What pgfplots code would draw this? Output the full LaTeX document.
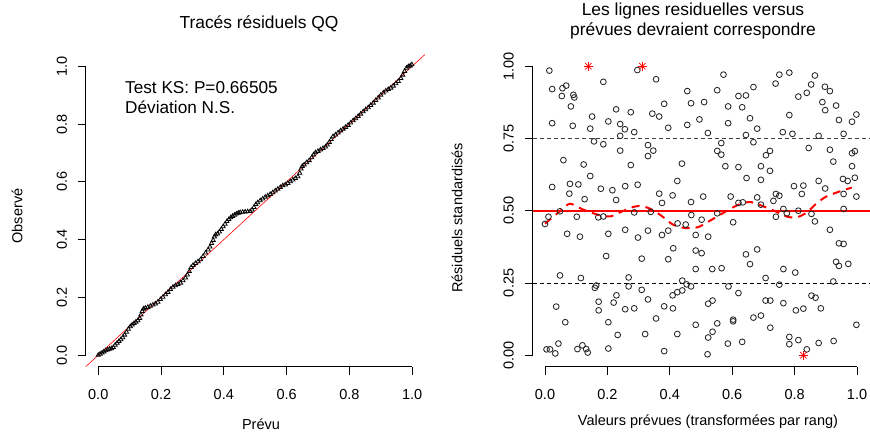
\documentclass[border=0pt]{standalone}
\usepackage{fontspec}
\setmainfont{Liberation Sans}
\usepackage{pgfplots}
\usepackage{pgfplotstable}
\pgfplotsset{compat=1.18}

\newcommand{\basefont}{\fontsize{14.5}{17.4}\selectfont}
\newcommand{\titlefont}{\fontsize{17.4}{20}\selectfont}
\newcommand{\legfont}{\fontsize{17.2}{20}\selectfont}

% QQ plot: expected vs observed quantiles
\pgfplotstableread{
x y
0.000 0.000
0.006 0.004
0.012 0.008
0.018 0.012
0.024 0.016
0.030 0.019
0.036 0.021
0.042 0.023
0.048 0.027
0.054 0.035
0.060 0.042
0.066 0.048
0.072 0.054
0.078 0.061
0.084 0.070
0.090 0.080
0.096 0.090
0.102 0.099
0.108 0.105
0.114 0.110
0.120 0.115
0.126 0.120
0.132 0.128
0.136 0.140
0.140 0.152
0.144 0.160
0.150 0.163
0.158 0.166
0.166 0.170
0.174 0.174
0.182 0.178
0.190 0.184
0.198 0.193
0.206 0.201
0.214 0.210
0.222 0.218
0.230 0.228
0.238 0.236
0.246 0.241
0.254 0.245
0.262 0.250
0.270 0.258
0.278 0.268
0.284 0.278
0.290 0.290
0.296 0.304
0.302 0.311
0.310 0.318
0.318 0.324
0.326 0.331
0.334 0.342
0.342 0.354
0.350 0.365
0.356 0.375
0.361 0.387
0.366 0.398
0.370 0.410
0.374 0.417
0.380 0.420
0.386 0.427
0.392 0.436
0.398 0.445
0.404 0.454
0.410 0.463
0.416 0.470
0.422 0.476
0.428 0.481
0.434 0.485
0.440 0.489
0.446 0.492
0.452 0.494
0.460 0.495
0.468 0.496
0.476 0.497
0.484 0.498
0.490 0.503
0.496 0.512
0.502 0.522
0.508 0.528
0.516 0.535
0.524 0.541
0.532 0.547
0.540 0.552
0.548 0.557
0.556 0.563
0.564 0.569
0.572 0.575
0.580 0.581
0.588 0.587
0.596 0.590
0.604 0.595
0.612 0.601
0.620 0.607
0.628 0.612
0.636 0.618
0.642 0.630
0.646 0.645
0.650 0.654
0.656 0.659
0.664 0.667
0.672 0.674
0.680 0.684
0.686 0.694
0.692 0.701
0.700 0.706
0.708 0.711
0.716 0.716
0.724 0.721
0.730 0.728
0.736 0.737
0.742 0.747
0.748 0.757
0.756 0.763
0.764 0.770
0.772 0.777
0.780 0.783
0.788 0.789
0.796 0.796
0.804 0.804
0.812 0.812
0.820 0.819
0.828 0.827
0.836 0.835
0.844 0.843
0.852 0.850
0.860 0.857
0.868 0.865
0.876 0.873
0.884 0.882
0.892 0.891
0.900 0.900
0.908 0.908
0.916 0.915
0.924 0.920
0.932 0.925
0.940 0.932
0.948 0.940
0.956 0.948
0.964 0.958
0.970 0.970
0.976 0.983
0.982 0.994
0.988 0.999
0.994 1.002
0.999 1.006
}\qqdata

% residuals vs rank-transformed predictions
\pgfplotstableread{
x y
0.014 0.985
0.023 0.921
0.056 0.924
0.068 0.933
0.054 0.897
0.091 0.901
0.094 0.892
0.083 0.861
0.023 0.803
0.089 0.794
0.151 0.826
0.145 0.784
0.187 0.946
0.203 0.809
0.228 0.851
0.241 0.800
0.256 0.782
0.241 0.759
0.275 0.841
0.286 0.772
0.296 0.987
0.356 0.955
0.344 0.836
0.366 0.826
0.382 0.870
0.395 0.787
0.456 0.914
0.468 0.872
0.456 0.797
0.157 0.740
0.187 0.730
0.241 0.708
0.330 0.727
0.347 0.708
0.330 0.689
0.059 0.675
0.124 0.660
0.275 0.658
0.439 0.663
0.145 0.620
0.023 0.582
0.080 0.593
0.107 0.591
0.078 0.559
0.127 0.540
0.179 0.576
0.216 0.571
0.228 0.537
0.257 0.585
0.297 0.590
0.424 0.603
0.366 0.559
0.409 0.553
0.375 0.527
0.468 0.530
0.572 0.971
0.751 0.971
0.783 0.978
0.865 0.968
0.739 0.940
0.853 0.937
0.897 0.929
0.913 0.914
0.552 0.917
0.668 0.928
0.644 0.899
0.620 0.897
0.839 0.908
0.812 0.895
0.510 0.876
0.587 0.861
0.632 0.858
0.889 0.876
0.898 0.848
0.933 0.864
0.783 0.831
0.998 0.833
0.984 0.808
0.942 0.814
0.495 0.816
0.587 0.803
0.657 0.820
0.680 0.784
0.522 0.769
0.644 0.762
0.762 0.772
0.793 0.766
0.877 0.759
0.957 0.766
0.565 0.734
0.668 0.737
0.552 0.707
0.565 0.694
0.721 0.707
0.708 0.692
0.845 0.717
0.913 0.711
0.993 0.706
0.984 0.699
0.924 0.670
0.578 0.654
0.620 0.651
0.692 0.654
0.721 0.638
0.984 0.654
0.646 0.613
0.692 0.607
0.877 0.603
0.970 0.603
0.955 0.610
0.993 0.614
0.798 0.585
0.828 0.587
0.898 0.577
0.823 0.558
0.507 0.549
0.595 0.549
0.634 0.529
0.620 0.527
0.680 0.546
0.740 0.558
0.751 0.552
0.732 0.534
0.692 0.521
0.998 0.549
0.957 0.558
0.011 0.479
0.000 0.454
0.048 0.498
0.102 0.479
0.171 0.477
0.187 0.480
0.071 0.420
0.112 0.410
0.203 0.420
0.257 0.434
0.286 0.494
0.298 0.407
0.330 0.431
0.339 0.496
0.375 0.416
0.395 0.431
0.425 0.456
0.451 0.452
0.469 0.485
0.411 0.370
0.196 0.343
0.310 0.334
0.395 0.332
0.048 0.276
0.115 0.267
0.160 0.233
0.164 0.241
0.268 0.269
0.268 0.238
0.310 0.226
0.440 0.258
0.468 0.238
0.454 0.245
0.440 0.224
0.424 0.218
0.409 0.207
0.229 0.207
0.220 0.182
0.172 0.185
0.172 0.155
0.330 0.193
0.257 0.159
0.286 0.162
0.382 0.169
0.410 0.162
0.036 0.168
0.065 0.114
0.203 0.114
0.356 0.127
0.233 0.070
0.321 0.073
0.424 0.073
0.043 0.040
0.005 0.020
0.016 0.020
0.033 0.006
0.104 0.021
0.120 0.034
0.132 0.021
0.137 0.009
0.203 0.023
0.382 0.014
0.502 0.469
0.552 0.491
0.603 0.460
0.740 0.479
0.764 0.506
0.775 0.491
0.812 0.500
0.854 0.489
0.865 0.463
0.957 0.506
0.483 0.416
0.523 0.410
0.483 0.362
0.502 0.353
0.483 0.298
0.536 0.298
0.566 0.301
0.644 0.349
0.680 0.366
0.657 0.315
0.764 0.298
0.802 0.286
0.707 0.267
0.751 0.244
0.588 0.238
0.620 0.215
0.913 0.434
0.942 0.387
0.957 0.385
0.933 0.323
0.942 0.309
0.972 0.316
0.924 0.255
0.523 0.178
0.537 0.189
0.707 0.189
0.722 0.189
0.764 0.180
0.804 0.155
0.828 0.161
0.854 0.206
0.867 0.199
0.884 0.162
0.483 0.105
0.552 0.110
0.603 0.123
0.603 0.117
0.668 0.130
0.692 0.137
0.722 0.095
0.998 0.105
0.523 0.061
0.537 0.081
0.783 0.063
0.521 0.003
0.586 0.040
0.632 0.046
0.783 0.038
0.812 0.052
0.839 0.020
0.877 0.042
0.925 0.049
}\resdata

% outliers (stars)
\pgfplotstableread{
x y
0.139 1.000
0.312 1.000
0.828 0.000
}\outdata

% median quantile fit (red dashed)
\pgfplotstableread{
x y
0.000 0.455
0.050 0.500
0.080 0.524
0.120 0.505
0.170 0.486
0.210 0.480
0.240 0.494
0.290 0.515
0.330 0.510
0.370 0.485
0.410 0.452
0.450 0.440
0.490 0.443
0.520 0.460
0.560 0.485
0.600 0.510
0.630 0.525
0.660 0.530
0.700 0.515
0.740 0.497
0.780 0.478
0.810 0.478
0.840 0.495
0.870 0.525
0.900 0.548
0.940 0.565
0.983 0.580
}\qfit

\pgfplotsset{
  rpanel/.style={
    scale only axis, height=312pt,
    xmin=-0.04, xmax=1.04, ymin=-0.04, ymax=1.04,
    axis line style={draw=none},
    tick align=outside, major tick length=8pt,
    xtick pos=left, ytick pos=left,
    tick style={black, line width=0.8pt},
    clip=false,
    xtick={0,0.2,0.4,0.6,0.8,1},
    xticklabels={0.0,0.2,0.4,0.6,0.8,1.0},
    tick label style={font=\basefont, inner sep=0pt},
    xticklabel style={anchor=north},
    yticklabel style={rotate=90, anchor=south},
    xticklabel shift=14pt, yticklabel shift=10.5pt,
  },
}

\begin{document}
\begin{tikzpicture}
\path[use as bounding box] (0,0) rectangle (870pt,432pt);

% left: QQ plot
\begin{axis}[rpanel, width=339pt, at={(85.7pt,65.3pt)}, anchor=south west,
  ytick={0,0.2,0.4,0.6,0.8,1},
  yticklabels={0.0,0.2,0.4,0.6,0.8,1.0}]
\addplot[only marks, mark=triangle, mark size=2.4pt,
  mark options={line width=0.8pt}, black] table {\qqdata};
\addplot[red, line width=0.6pt] coordinates {(-0.04,-0.04) (1.04,1.04)};
\draw[line width=0.8pt] (axis cs:0,-0.04) -- (axis cs:1,-0.04);
\draw[line width=0.8pt] (axis cs:-0.04,0) -- (axis cs:-0.04,1);
\end{axis}

% right: residuals vs predicted
\begin{axis}[rpanel, width=337pt, at={(532.5pt,65.3pt)}, anchor=south west,
  ytick={0,0.25,0.5,0.75,1},
  yticklabels={0.00,0.25,0.50,0.75,1.00}]
\addplot[only marks, mark=o, mark size=2.9pt,
  mark options={line width=0.85pt}, black!85] table {\resdata};
\addplot[only marks, mark=+, mark size=4.5pt,
  mark options={line width=0.7pt}, red] table {\outdata};
\addplot[only marks, mark=x, mark size=4.5pt,
  mark options={line width=0.7pt}, red] table {\outdata};
\addplot[black!75, line width=0.8pt, dash pattern=on 4pt off 3pt]
  coordinates {(-0.04,0.75) (1.04,0.75)};
\addplot[black, line width=0.8pt, dash pattern=on 4pt off 3pt]
  coordinates {(-0.04,0.25) (1.04,0.25)};
\addplot[red, line width=2pt] coordinates {(-0.04,0.5) (1.04,0.5)};
\addplot[red, line width=2pt, dash pattern=on 8pt off 6pt, smooth]
  table {\qfit};
\draw[line width=0.8pt] (axis cs:0,-0.04) -- (axis cs:1,-0.04);
\draw[line width=0.8pt] (axis cs:-0.04,0) -- (axis cs:-0.04,1);
\end{axis}

% titles and labels
\node[anchor=base, font=\titlefont] at (259pt,403pt) {Tracés résiduels QQ};
\node[anchor=base, font=\titlefont] at (693pt,416pt) {Les lignes residuelles versus};
\node[anchor=base, font=\titlefont] at (693pt,396.5pt) {prévues devraient correspondre};
\node[anchor=base west, font=\legfont, inner sep=0pt] at (125pt,338pt) {Test KS: P=0.66505};
\node[anchor=base west, font=\legfont, inner sep=0pt] at (125pt,318pt) {Déviation N.S.};
\node[rotate=90, font=\basefont] at (17pt,216pt) {Observé};
\node[anchor=base, font=\basefont, inner sep=0pt] at (261pt,3pt) {Prévu};
\node[rotate=90, font=\basefont] at (457pt,214pt) {Résiduels standardisés};
\node[anchor=base, font=\basefont] at (708pt,7pt) {Valeurs prévues (transformées par rang)};
\end{tikzpicture}
\end{document}
